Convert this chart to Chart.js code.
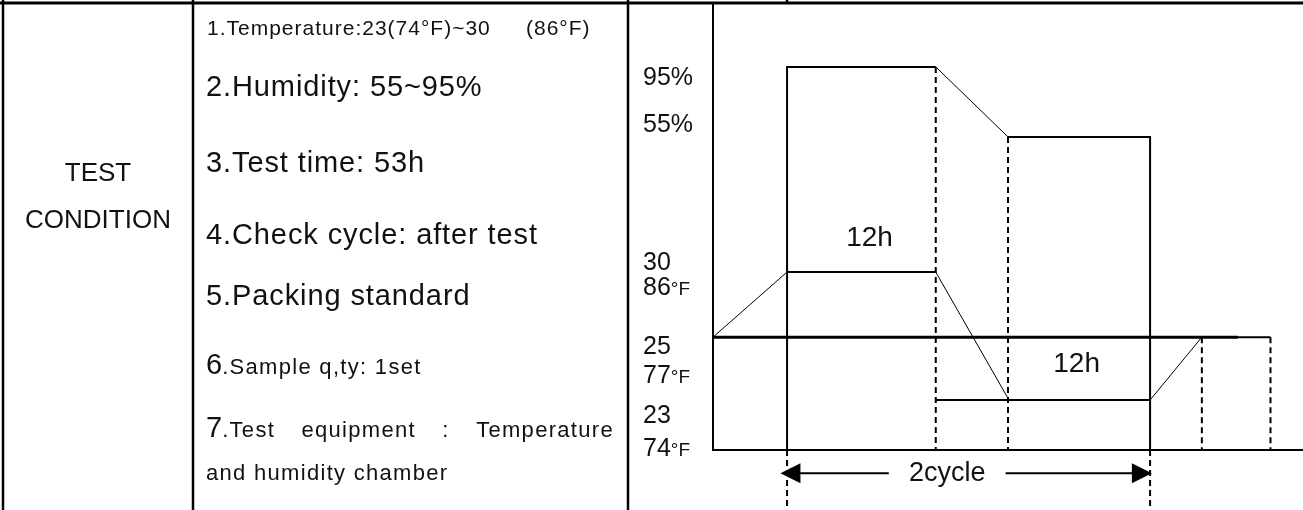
<!DOCTYPE html>
<html>
<head>
<meta charset="utf-8">
<script src="https://cdn.jsdelivr.net/npm/chart.js@4"></script>
<style>
  body { margin: 0; background: #fff; }
  #wrap { position: relative; width: 1303px; height: 510px; overflow: hidden; font-family: "Liberation Sans", Arial, sans-serif; color: #111; }
  #wrap canvas { position: absolute; left: 0; top: 0; }
  .t { position: absolute; white-space: nowrap; transform: translateY(-50%); line-height: 1; }
  .big { font-size: 29px; letter-spacing: 0.9px; }
  .small { font-size: 22px; letter-spacing: 1.3px; }
  .head { font-size: 26px; left: 3px; width: 190px; text-align: center; }
</style>
</head>
<body>
<div id="wrap">
  <canvas id="chart" width="1303" height="510"></canvas>
  <div class="t head" style="top:172px">TEST</div>
  <div class="t head" style="top:219px">CONDITION</div>
  <div class="t" style="left:207px;top:27px;font-size:21px;letter-spacing:1px">1.Temperature:23(74°F)~30</div>
  <div class="t" style="left:526px;top:27px;font-size:21px;letter-spacing:1px">(86°F)</div>
  <div class="t big" style="left:206px;top:86px">2.Humidity: 55~95%</div>
  <div class="t big" style="left:206px;top:162px">3.Test time: 53h</div>
  <div class="t big" style="left:206px;top:234px">4.Check cycle: after test</div>
  <div class="t big" style="left:206px;top:295px">5.Packing standard</div>
  <div class="t small" style="left:206px;top:364px"><span style="font-size:29px;letter-spacing:0">6</span>.Sample q,ty: 1set</div>
  <div class="t small" style="left:206px;width:408px;top:427px;display:flex;justify-content:space-between;align-items:baseline"><span><span style="font-size:29px;letter-spacing:0">7</span>.Test</span><span>equipment</span><span>:</span><span>Temperature</span></div>
  <div class="t small" style="left:206px;top:473px">and humidity chamber</div>
</div>
<script>
// x in hours from the start of the plot, y in relative level (0 = time axis)
const humidityX = [6.15, 6.15, 18.5, 24.5, 36.3, 36.3];
const humidityY = [0, 85.9, 85.9, 70.2, 70.2, 0];
const tempX = [0, 6.15, 18.5, 24.5];
const tempY = [25.3, 39.9, 39.9, 11.6];
const tempLowX = [18.5, 36.3, 40.6];
const tempLowY = [11.2, 11.2, 25.3];
const baseX = [0, 43.6, 46.3];
const baseY = [25.3, 25.3, 25.3];
const dashX = [18.5, 24.5, 40.6, 46.3];
const dashTop = [85.9, 70.2, 25.3, 25.3];
const belowX = [6.15, 36.3];
const cycleFrom = 5.6, cycleTo = 36.45, cycleLevel = -5.2;
const cycleGap = [14.6, 24.3];
const yLabels = ['95%', '55%', '30', '86', '25', '77', '23', '74'];
const yLabelLevels = [83.4, 72.9, 41.9, 36.3, 23.1, 16.6, 7.6, 0.2];
const spanLabels = ['12h', '12h'];
const spanX = [13.0, 30.2];
const spanY = [47.5, 19.3];

const pts = (xs, ys) => xs.map((x, i) => ({ x: x, y: ys[i] }));

function dashed(xs, tops, bottom) {
  const out = [];
  xs.forEach((x, i) => {
    out.push({ x: x, y: tops[i] }, { x: x, y: bottom }, { x: x, y: null });
  });
  return out;
}

const slopeWidth = ctx => (ctx.p0.parsed.x !== ctx.p1.parsed.x && ctx.p0.parsed.y !== ctx.p1.parsed.y) ? 1 : 2;

const overlay = {
  id: 'overlay',
  afterDatasetsDraw(chart) {
    const c = chart.ctx, xs = chart.scales.x, ys = chart.scales.y;
    c.save();
    c.strokeStyle = '#000';
    c.lineCap = 'butt';
    // table frame
    c.lineWidth = 3;
    c.beginPath(); c.moveTo(0, 3); c.lineTo(1303, 3); c.stroke();
    c.lineWidth = 2.5;
    [3, 193, 628].forEach(x => { c.beginPath(); c.moveTo(x, 0); c.lineTo(x, 510); c.stroke(); });
    c.beginPath(); c.moveTo(787, 0); c.lineTo(787, 3); c.stroke();
    // plot axes
    c.lineWidth = 2;
    const x0 = xs.getPixelForValue(0), y0 = ys.getPixelForValue(0);
    c.beginPath(); c.moveTo(x0, 3); c.lineTo(x0, y0); c.lineTo(chart.width, y0); c.stroke();
    // arrow heads
    c.fillStyle = '#000';
    const ay = ys.getPixelForValue(cycleLevel);
    const l = xs.getPixelForValue(cycleFrom), r = xs.getPixelForValue(cycleTo);
    c.beginPath(); c.moveTo(l, ay); c.lineTo(l + 20, ay - 10); c.lineTo(l + 20, ay + 10); c.closePath(); c.fill();
    c.beginPath(); c.moveTo(r, ay); c.lineTo(r - 20, ay - 10); c.lineTo(r - 20, ay + 10); c.closePath(); c.fill();
    // texts
    c.fillStyle = '#111';
    c.textBaseline = 'middle';
    c.textAlign = 'center';
    c.font = '27px "Liberation Sans", Arial, sans-serif';
    c.fillText('2cycle', (xs.getPixelForValue(cycleGap[0]) + xs.getPixelForValue(cycleGap[1])) / 2, ay);
    c.font = '28px "Liberation Sans", Arial, sans-serif';
    spanLabels.forEach((t, i) => c.fillText(t, xs.getPixelForValue(spanX[i]), ys.getPixelForValue(spanY[i])));
    c.textAlign = 'left';
    yLabels.forEach((t, i) => {
      const y = ys.getPixelForValue(yLabelLevels[i]);
      c.font = '25px "Liberation Sans", Arial, sans-serif';
      c.fillText(t, 643, y);
      if (!t.includes('%') && i % 2 === 1) {
        const w = c.measureText(t).width;
        c.font = '19px "Liberation Sans", Arial, sans-serif';
        c.fillText('°F', 643 + w, y + 2);
      }
    });
    c.restore();
  }
};

new Chart(document.getElementById('chart'), {
  type: 'scatter',
  data: {
    datasets: [
      { data: pts(humidityX, humidityY), segment: { borderWidth: slopeWidth } },
      { data: pts(tempX, tempY), segment: { borderWidth: slopeWidth } },
      { data: pts(tempLowX, tempLowY), segment: { borderWidth: slopeWidth } },
      { data: pts(baseX, baseY), segment: { borderWidth: ctx => ctx.p0DataIndex === 0 ? 3 : 2 } },
      { data: dashed(dashX, dashTop, 0), borderDash: [6, 4], spanGaps: false },
      { data: dashed(belowX, [0, 0], -13.45), borderDash: [6, 4], spanGaps: false },
      { data: pts([cycleFrom + 1.5, cycleGap[0]], [cycleLevel, cycleLevel]) },
      { data: pts([cycleGap[1], cycleTo - 1.5], [cycleLevel, cycleLevel]) }
    ].map(d => Object.assign({ showLine: true, borderColor: '#000', borderWidth: 2, pointRadius: 0, fill: false }, d))
  },
  options: {
    responsive: false,
    animation: false,
    devicePixelRatio: 1,
    layout: { padding: { left: 713, top: 4, right: 0, bottom: 0 } },
    plugins: { legend: { display: false }, tooltip: { enabled: false } },
    scales: {
      x: { type: 'linear', min: 0, max: 49, display: false },
      y: { type: 'linear', min: -13.45, max: 100, display: false }
    }
  },
  plugins: [overlay]
});
</script>
</body>
</html>
